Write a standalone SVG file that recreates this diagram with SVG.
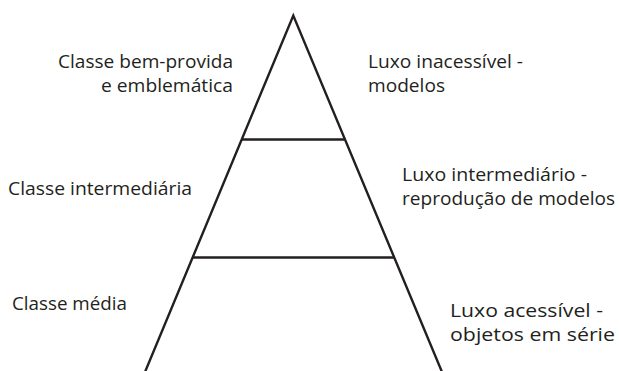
<svg xmlns="http://www.w3.org/2000/svg" width="619" height="371" viewBox="0 0 619 371">
<style>
.t{font-family:"Open Sans","Noto Sans","Liberation Sans",sans-serif;font-size:19px;fill:#231f20}
.l{stroke:#231f20;stroke-width:2.4;fill:none}
</style>
<rect width="619" height="371" fill="#ffffff"/>
<g id="connectors">
<polyline class="l" points="145,372 293.3,15.5 442,372"/>
<line class="l" x1="242" y1="139.5" x2="344.5" y2="139.5"/>
<line class="l" x1="192.5" y1="257.5" x2="394" y2="257.5"/>
</g>
<g id="node-top-left">
<text class="t" x="58" y="67.7" textLength="175" lengthAdjust="spacingAndGlyphs">Classe bem-provida</text>
<text class="t" x="101" y="91.7" textLength="132" lengthAdjust="spacingAndGlyphs">e emblemática</text>
</g>
<g id="node-top-right">
<text class="t" x="368" y="67.7" textLength="155" lengthAdjust="spacingAndGlyphs">Luxo inacessível -</text>
<text class="t" x="368" y="91.7" textLength="77" lengthAdjust="spacingAndGlyphs">modelos</text>
</g>
<g id="node-mid-left">
<text class="t" x="8" y="195" textLength="184" lengthAdjust="spacingAndGlyphs">Classe intermediária</text>
</g>
<g id="node-mid-right">
<text class="t" x="402" y="180.7" textLength="185" lengthAdjust="spacingAndGlyphs">Luxo intermediário -</text>
<text class="t" x="402" y="204.5" textLength="213" lengthAdjust="spacingAndGlyphs">reprodução de modelos</text>
</g>
<g id="node-bottom-left">
<text class="t" x="12" y="310" textLength="115" lengthAdjust="spacingAndGlyphs">Classe média</text>
</g>
<g id="node-bottom-right">
<text class="t" x="450" y="317" textLength="153" lengthAdjust="spacingAndGlyphs">Luxo acessível -</text>
<text class="t" x="450" y="341" textLength="165" lengthAdjust="spacingAndGlyphs">objetos em série</text>
</g>
</svg>
